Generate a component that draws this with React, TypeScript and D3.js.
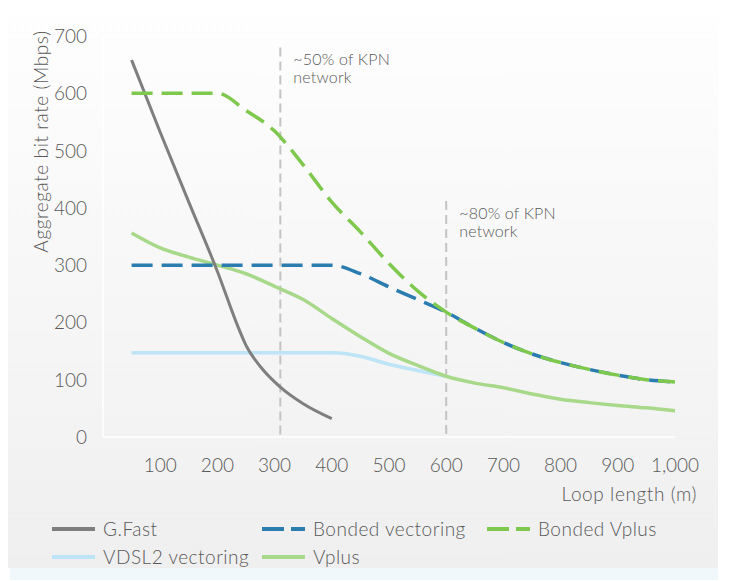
import React from "react";
import * as d3 from "d3";

const gfastX = [50, 100, 150, 200, 237, 250, 275, 310, 350, 400];
const gfastY = [658, 532, 410, 289, 190, 160, 123, 87, 58, 32];

const bondedVectX = [50, 100, 200, 300, 400, 450, 500, 550, 600, 650, 700, 750, 800, 850, 900, 950, 1000];
const bondedVectY = [300, 300, 300, 300, 300, 285, 262, 240, 218, 190, 165, 145, 130, 118, 108, 100, 96];

const bondedVplusX = [50, 100, 150, 200, 250, 300, 350, 400, 450, 500, 550, 600, 650, 700, 750, 800, 850, 900, 950, 1000];
const bondedVplusY = [600, 600, 600, 600, 570, 534, 475, 410, 358, 303, 255, 218, 190, 165, 145, 130, 118, 108, 100, 96];

const vdslX = [50, 100, 200, 300, 400, 450, 500, 550, 600];
const vdslY = [147, 147, 147, 147, 147, 141, 127, 116, 106];

const vplusX = [50, 100, 150, 200, 250, 300, 350, 400, 450, 500, 550, 600, 650, 700, 750, 800, 850, 900, 950, 1000];
const vplusY = [356, 330, 314, 300, 285, 263, 240, 207, 175, 146, 125, 106, 94, 86, 75, 66, 60, 55, 51, 46];

const xTicks = [100, 200, 300, 400, 500, 600, 700, 800, 900, 1000];
const yTicks = [0, 100, 200, 300, 400, 500, 600, 700];

const markerX = [310, 600];
const markerTop = [680, 412];
const markerLabels = [
  ["~50% of KPN", "network"],
  ["~80% of KPN", "network"],
];

const FONT = "Lato, 'Open Sans', sans-serif";
const TXT = "#595959";
const FW = 300;

export default function App() {
  const x = d3.scaleLinear().domain([0, 1000]).range([103, 675]);
  const y = d3.scaleLinear().domain([0, 700]).range([437, 36]);
  const line = d3
    .line<[number, number]>()
    .x((d) => x(d[0]))
    .y((d) => y(d[1]))
    .curve(d3.curveMonotoneX);
  const zip = (a: number[], b: number[]) => a.map((v, i) => [v, b[i]] as [number, number]);

  const series = [
    { name: "VDSL2 vectoring", d: zip(vdslX, vdslY), color: "#bde4f7", w: 3.5, dash: "" },
    { name: "Vplus", d: zip(vplusX, vplusY), color: "#a8d98a", w: 3.5, dash: "" },
    { name: "G.Fast", d: zip(gfastX, gfastY), color: "#7f7f7f", w: 3, dash: "" },
    { name: "Bonded vectoring", d: zip(bondedVectX, bondedVectY), color: "#2b7db0", w: 3.5, dash: "21 9" },
    { name: "Bonded Vplus", d: zip(bondedVplusX, bondedVplusY), color: "#7ec84e", w: 3.5, dash: "21 9" },
  ];

  const legend = [
    { name: "G.Fast", color: "#7f7f7f", dash: "", lx: 52, ly: 529 },
    { name: "Bonded vectoring", color: "#2b7db0", dash: "21 9", lx: 262, ly: 529 },
    { name: "Bonded Vplus", color: "#7ec84e", dash: "21 9", lx: 487, ly: 529 },
    { name: "VDSL2 vectoring", color: "#bde4f7", dash: "", lx: 52, ly: 557 },
    { name: "Vplus", color: "#a8d98a", dash: "", lx: 262, ly: 557 },
  ];

  return (
    <svg
      width={730}
      height={581}
      style={{ position: "absolute", left: 0, top: 0 }}
      fontFamily={FONT}
      fontWeight={FW}
    >
      <defs>
        <linearGradient id="bg" x1="0" y1="0" x2="0" y2="1">
          <stop offset="0" stopColor="#fefefe" />
          <stop offset="1" stopColor="#efefef" />
        </linearGradient>
      </defs>
      <rect x={0} y={0} width={730} height={581} fill="#ffffff" />
      <rect x={8} y={15} width={710} height={553} fill="url(#bg)" />
      <rect x={10} y={568} width={708} height={12} fill="#f1f8fc" />

      {/* axis lines */}
      <line x1={x(0)} x2={x(0)} y1={y(700)} y2={y(0)} stroke="#ffffff" strokeWidth={1.5} />
      <line x1={x(0)} x2={x(1000)} y1={y(0)} y2={y(0)} stroke="#ffffff" strokeWidth={1.5} />

      {/* tick labels */}
      {yTicks.map((t) => (
        <text key={"y" + t} x={87} y={y(t) + 7} textAnchor="end" fontSize={19} fill={TXT}>
          {t}
        </text>
      ))}
      {xTicks.map((t) => (
        <text key={"x" + t} x={x(t)} y={472} textAnchor="middle" fontSize={19} fill={TXT}>
          {d3.format(",")(t)}
        </text>
      ))}

      <text
        transform="translate(48,141.5) rotate(-90)"
        textAnchor="middle"
        fontSize={19}
        letterSpacing={0.6}
        fill={TXT}
      >
        Aggregate bit rate (Mbps)
      </text>
      <text x={697} y={501} textAnchor="end" fontSize={19} letterSpacing={0.6} fill={TXT}>
        Loop length (m)
      </text>

      {/* annotation markers */}
      {markerX.map((mx, i) => (
        <g key={"m" + i}>
          <line
            x1={x(mx)}
            x2={x(mx)}
            y1={y(markerTop[i])}
            y2={y(0)}
            stroke="#c3c3c3"
            strokeWidth={2}
            strokeDasharray="9 5"
          />
          {markerLabels[i].map((l, j) => (
            <text
              key={j}
              x={x(mx) + 13}
              y={y(markerTop[i]) + 18 + j * 18}
              fontSize={16}
              letterSpacing={0.2}
              fill={TXT}
            >
              {l}
            </text>
          ))}
        </g>
      ))}

      {/* series */}
      {series.map((s) => (
        <path
          key={s.name}
          d={line(s.d) || ""}
          fill="none"
          stroke={s.color}
          strokeWidth={s.w}
          strokeDasharray={s.dash || undefined}
          strokeLinejoin="round"
        />
      ))}

      {/* legend */}
      {legend.map((l) => (
        <g key={"l" + l.name}>
          <line
            x1={l.lx}
            x2={l.lx + 43}
            y1={l.ly}
            y2={l.ly}
            stroke={l.color}
            strokeWidth={4}
            strokeDasharray={l.dash ? "22 7" : undefined}
          />
          <text x={l.lx + 51} y={l.ly + 7} fontSize={19} letterSpacing={0.5} fill={TXT}>
            {l.name}
          </text>
        </g>
      ))}
    </svg>
  );
}
